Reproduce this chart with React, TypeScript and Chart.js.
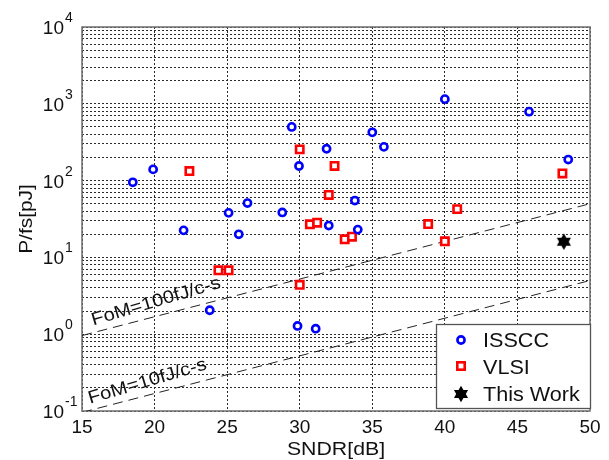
import React, { useEffect, useRef } from "react";
import { Chart, registerables } from "chart.js";

Chart.register(...registerables);

// ---- data ----
const isscSndr = [18.5, 19.9, 22.0, 23.8, 25.1, 25.8, 26.4, 28.8, 29.45, 29.95, 29.85, 31.1, 31.85, 32.0, 33.8, 34.0, 35.0, 35.8, 40.0, 45.8, 48.5];
const isscPfs = [95, 140, 22.5, 2.05, 38, 20, 51, 38.5, 500, 155, 1.28, 1.18, 260, 26, 55, 23, 425, 275, 1150, 790, 188];

const vlsiSndr = [22.4, 24.4, 25.1, 30.0, 30.0, 30.7, 31.2, 32.0, 32.4, 33.1, 33.6, 38.85, 40.0, 40.85, 48.1];
const vlsiPfs = [133, 6.8, 6.8, 255, 4.4, 27, 28.3, 65, 155, 17.2, 18.6, 27.2, 16.2, 42.5, 124];

const workSndr = [48.2];
const workPfs = [16];

const fomSndr = [15, 50];
const fom100Pfs = [0.96, 50];
const fom10Pfs = [0.096, 5.0];

const xTicks = [15, 20, 25, 30, 35, 40, 45, 50];
const yDecadeExps = [-1, 0, 1, 2, 3, 4];
const yMinorMult = [1, 2, 3, 4, 5, 6, 7, 8, 9];

const legendLabels = ["ISSCC", "VLSI", "This Work"];
const fomLabels = ["FoM=100fJ/c-s", "FoM=10fJ/c-s"];

const FONT = '"Liberation Sans", Arial, sans-serif';

function makeStar(): HTMLCanvasElement {
  const c = document.createElement("canvas");
  c.width = 18;
  c.height = 18;
  const g = c.getContext("2d")!;
  const cx = 9, cy = 9, R = 8.2;
  g.fillStyle = "#000";
  for (let t = 0; t < 2; t++) {
    g.beginPath();
    for (let k = 0; k < 3; k++) {
      const a = -Math.PI / 2 + t * Math.PI + (k * 2 * Math.PI) / 3;
      const px = cx + R * Math.cos(a);
      const py = cy + R * Math.sin(a);
      if (k === 0) g.moveTo(px, py);
      else g.lineTo(px, py);
    }
    g.closePath();
    g.fill();
  }
  return c;
}

function txt(
  ctx: CanvasRenderingContext2D,
  s: string,
  x: number,
  y: number,
  size: number,
  align: CanvasTextAlign,
  sx = 1,
  rot = 0
) {
  ctx.save();
  ctx.translate(x, y);
  ctx.rotate(rot);
  ctx.scale(sx, 1);
  ctx.font = `${size}px ${FONT}`;
  ctx.textAlign = align;
  ctx.textBaseline = "alphabetic";
  ctx.fillStyle = "#111";
  ctx.fillText(s, 0, 0);
  ctx.restore();
}

const pts = (xs: number[], ys: number[]) => xs.map((x, i) => ({ x, y: ys[i] }));

export default function App() {
  const ref = useRef<HTMLCanvasElement | null>(null);

  useEffect(() => {
    if (!ref.current) return;
    const star = makeStar();

    const decorations = {
      id: "decorations",
      beforeDatasetsDraw(chart: any) {
        const { ctx, chartArea: a } = chart;
        ctx.save();
        ctx.strokeStyle = "#6e6e6e";
        ctx.lineWidth = 1.5;
        ctx.setLineDash([]);
        ctx.strokeRect(a.left, a.top, a.right - a.left, a.bottom - a.top);
        ctx.restore();
      },
      afterDraw(chart: any) {
        const { ctx } = chart;
        const xs = chart.scales.x;
        const ys = chart.scales.y;
        const a = chart.chartArea;

        // x tick labels
        xTicks.forEach((v) => {
          txt(ctx, String(v), xs.getPixelForValue(v), a.bottom + 22, 19, "center");
        });
        // y tick labels 10^n
        yDecadeExps.forEach((e) => {
          const gy = ys.getPixelForValue(Math.pow(10, e));
          txt(ctx, "10", 64, gy + 7, 19, "right");
          txt(ctx, String(e), 65, gy - 5, 14, "left");
        });
        // axis titles
        txt(ctx, "SNDR[dB]", (a.left + a.right) / 2, 455, 19, "center", 1.12);
        txt(ctx, "P/fs[pJ]", 32, (a.top + a.bottom) / 2, 19, "center", 1.1, -Math.PI / 2);

        // FoM labels
        const ang = (-16.5 * Math.PI) / 180;
        txt(ctx, fomLabels[0], xs.getPixelForValue(15.78), ys.getPixelForValue(1.3), 18, "left", 1.12, ang);
        txt(ctx, fomLabels[1], xs.getPixelForValue(15.55), ys.getPixelForValue(0.124), 18, "left", 1.12, ang);

        // legend
        ctx.save();
        ctx.fillStyle = "#fff";
        ctx.strokeStyle = "#555";
        ctx.lineWidth = 1.3;
        ctx.fillRect(436.5, 324.5, 154, 84);
        ctx.strokeRect(436.5, 324.5, 154, 84);
        // circle
        ctx.beginPath();
        ctx.arc(461, 340, 3.6, 0, Math.PI * 2);
        ctx.strokeStyle = "#0000ff";
        ctx.lineWidth = 2.6;
        ctx.stroke();
        // square
        ctx.strokeStyle = "#ff0000";
        ctx.strokeRect(461 - 3.7, 366 - 3.7, 7.4, 7.4);
        // star
        ctx.drawImage(star, 461 - 9, 394 - 9);
        ctx.restore();
        txt(ctx, legendLabels[0], 483, 347, 20, "left", 1.08);
        txt(ctx, legendLabels[1], 483, 374, 20, "left", 1.08);
        txt(ctx, legendLabels[2], 483, 401, 20, "left", 1.08);
      },
    };

    const gridCommon = {
      color: "#2a2a2a",
      lineWidth: 1,
      drawTicks: false,
    };

    const chart = new Chart(ref.current, {
      type: "scatter",
      data: {
        datasets: [
          {
            label: "This Work",
            data: pts(workSndr, workPfs),
            pointStyle: star as any,
            pointRadius: 9,
            borderWidth: 0,
          },
          {
            label: "ISSCC",
            data: pts(isscSndr, isscPfs),
            pointStyle: "circle",
            pointRadius: 3.6,
            borderWidth: 2.6,
            borderColor: "#0000ff",
            backgroundColor: "#ffffff",
          },
          {
            label: "VLSI",
            data: pts(vlsiSndr, vlsiPfs),
            pointStyle: "rect",
            pointRadius: 5.2,
            borderWidth: 2.6,
            borderColor: "#ff0000",
            backgroundColor: "#ffffff",
          },
          {
            label: "FoM100",
            data: pts(fomSndr, fom100Pfs),
            showLine: true,
            borderColor: "#222",
            borderWidth: 1,
            borderDash: [10, 6],
            pointRadius: 0,
          },
          {
            label: "FoM10",
            data: pts(fomSndr, fom10Pfs),
            showLine: true,
            borderColor: "#222",
            borderWidth: 1,
            borderDash: [10, 6],
            pointRadius: 0,
          },
        ],
      },
      options: {
        animation: false,
        responsive: false,
        devicePixelRatio: 1,
        layout: { padding: { left: 82, right: 19, top: 27, bottom: 49 } },
        plugins: { legend: { display: false }, tooltip: { enabled: false } },
        scales: {
          x: {
            type: "linear",
            min: 15,
            max: 50,
            ticks: { display: false, stepSize: 5 },
            grid: gridCommon,
            border: { display: false, dash: [2, 2] },
          },
          y: {
            type: "logarithmic",
            min: 0.1,
            max: 10000,
            ticks: { display: false },
            afterBuildTicks: (s: any) => {
              const t: { value: number }[] = [];
              yDecadeExps.forEach((e) => {
                if (e === 4) {
                  t.push({ value: Math.pow(10, e) });
                  return;
                }
                yMinorMult.forEach((m) => t.push({ value: m * Math.pow(10, e) }));
              });
              s.ticks = t;
            },
            grid: gridCommon,
            border: { display: false, dash: [2, 2] },
          },
        },
      },
      plugins: [decorations],
    } as any);

    return () => chart.destroy();
  }, []);

  return (
    <div style={{ position: "absolute", left: 0, top: 0, width: 609, height: 460, background: "#fff" }}>
      <canvas ref={ref} width={609} height={460} />
    </div>
  );
}
